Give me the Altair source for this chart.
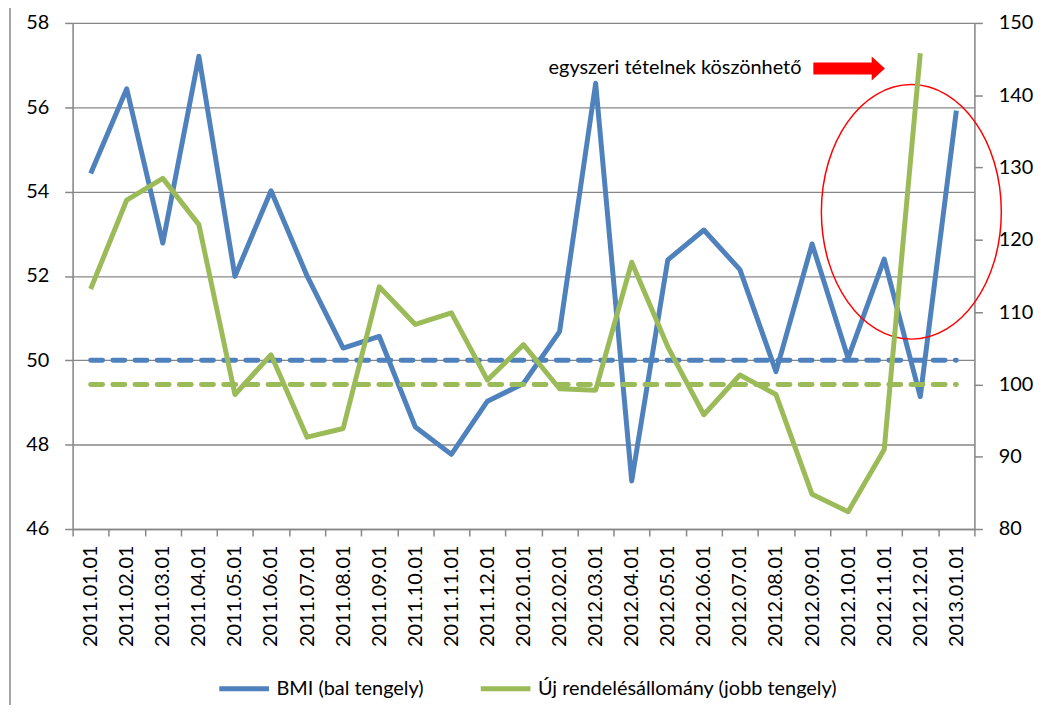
import altair as alt
import pandas as pd

dates = ["2011.01.01", "2011.02.01", "2011.03.01", "2011.04.01", "2011.05.01", "2011.06.01",
         "2011.07.01", "2011.08.01", "2011.09.01", "2011.10.01", "2011.11.01", "2011.12.01",
         "2012.01.01", "2012.02.01", "2012.03.01", "2012.04.01", "2012.05.01", "2012.06.01",
         "2012.07.01", "2012.08.01", "2012.09.01", "2012.10.01", "2012.11.01", "2012.12.01",
         "2013.01.01"]
bmi = [54.43, 56.44, 52.78, 57.21, 51.99, 54.02, 52.0, 50.29, 50.57, 48.42, 47.77, 49.03,
       49.45, 50.68, 56.57, 47.14, 52.38, 53.09, 52.15, 49.73, 52.76, 50.05, 52.4, 49.14, 55.92]
orders = [113.2, 125.5, 128.5, 122.1, 98.6, 104.1, 92.7, 93.9, 113.5, 108.3, 109.9, 100.6,
          105.5, 99.4, 99.2, 116.9, 105.2, 95.8, 101.3, 98.6, 84.8, 82.4, 91.0, 145.8, None]
bmi_ref = 50
orders_ref = 100
series_names = ["BMI (bal tengely)", "Új rendelésállomány (jobb tengely)"]
left_ticks = [46, 48, 50, 52, 54, 56, 58]
right_ticks = [80, 90, 100, 110, 120, 130, 140, 150]
annotation_text = "egyszeri tételnek köszönhető"

BLUE = "#4F81BD"
GREEN = "#9BBB59"
GRAY = "#878787"
FONT = "Lato"

df_bmi = pd.DataFrame({"date": dates, "value": bmi, "series": series_names[0],
                       "ref": [bmi_ref] * len(dates)})
df_ord = pd.DataFrame({"date": dates, "value": orders, "series": series_names[1],
                       "ref": [orders_ref] * len(dates)})

xscale = alt.Scale(type="band", domain=dates, paddingInner=0, paddingOuter=0)
xaxis_def = alt.Axis(title=None, labelAngle=-90, labelAlign="right", labelBaseline="middle",
                     labelFont=FONT, labelFontSize=20, labelColor="black",
                     labelPadding=9, tickBand="extent", tickSize=7, tickColor=GRAY,
                     tickWidth=1.5, domainColor=GRAY, domainWidth=1.5, grid=False)


def xenc():
    return alt.X("date:N", sort=dates, scale=xscale, bandPosition=0.5, axis=xaxis_def)


color = alt.Color("series:N", scale=alt.Scale(domain=series_names, range=[BLUE, GREEN]),
                  legend=alt.Legend(title=None, orient="none", direction="horizontal",
                                    legendX=145, legendY=642, symbolType="stroke",
                                    symbolStrokeWidth=5, symbolSize=2500,
                                    labelFont=FONT, labelFontSize=20, labelColor="black",
                                    labelLimit=500, columnPadding=46, labelOffset=5))

yleft_scale = alt.Scale(domain=[46, 58], nice=False, zero=False)
yleft_axis = alt.Axis(title=None, orient="left", values=left_ticks, grid=True, gridColor=GRAY,
                      gridWidth=1.3, domainColor=GRAY, domainWidth=1.5, tickColor=GRAY,
                      tickWidth=1.5, tickSize=8, labelPadding=16, labelFont=FONT,
                      labelFontSize=20, labelColor="black")
yright_scale = alt.Scale(domain=[80, 150], nice=False, zero=False)
yright_axis = alt.Axis(title=None, orient="right", values=right_ticks, grid=False,
                       domainColor=GRAY, domainWidth=1.5, tickColor=GRAY, tickWidth=1.5,
                       tickSize=8, labelPadding=16, labelFont=FONT, labelFontSize=20,
                       labelColor="black")

bmi_ref_line = alt.Chart(df_bmi).mark_line(strokeWidth=5, strokeDash=[12, 10.3],
                                            strokeCap="round", color=BLUE).encode(
    x=xenc(), y=alt.Y("ref:Q", scale=yleft_scale, axis=yleft_axis))
bmi_line = alt.Chart(df_bmi).mark_line(strokeWidth=5, strokeJoin="round").encode(
    x=xenc(), y=alt.Y("value:Q", scale=yleft_scale, axis=yleft_axis), color=color)

ann_df = pd.DataFrame({"date": ["2012.10.01"], "y": [56.92], "label": [annotation_text]})
ell_df = pd.DataFrame({"date": ["2012.12.01"], "y": [53.52]})

ann_text = alt.Chart(ann_df).mark_text(align="right", baseline="middle", dx=-47, fontSize=20,
                                       font=FONT, color="black").encode(
    x=xenc(), y=alt.Y("y:Q", scale=yleft_scale, axis=yleft_axis), text="label:N")
arrow_path = "M -1 -0.167 L 0.63 -0.167 L 0.63 -0.333 L 1 0 L 0.63 0.333 L 0.63 0.167 L -1 0.167 Z"
ann_arrow = alt.Chart(ann_df).mark_point(shape=arrow_path, size=5184, filled=True,
                                         color="#FF0000", opacity=1, xOffset=1).encode(
    x=xenc(), y=alt.Y("y:Q", scale=yleft_scale, axis=yleft_axis))
ellipse_path = "M -0.707 0 A 0.707 1 0 1 1 0.707 0 A 0.707 1 0 1 1 -0.707 0 Z"
ann_ellipse = alt.Chart(ell_df).mark_point(shape=ellipse_path, size=65536, filled=False,
                                           stroke="#FF0000", strokeWidth=1.5, opacity=1,
                                           xOffset=-9).encode(
    x=xenc(), y=alt.Y("y:Q", scale=yleft_scale, axis=yleft_axis))

border = alt.Chart(pd.DataFrame({"a": [0]})).mark_rule(color=GRAY, strokeWidth=1.5).encode(
    x=alt.value(-63), y=alt.value(-21), y2=alt.value(700))

left = alt.layer(bmi_ref_line, bmi_line, ann_text, ann_arrow, ann_ellipse, border)

ord_ref_line = alt.Chart(df_ord).mark_line(strokeWidth=5, strokeDash=[12, 10.3],
                                            strokeCap="round", color=GREEN).encode(
    x=xenc(), y=alt.Y("ref:Q", scale=yright_scale, axis=yright_axis))
ord_line = alt.Chart(df_ord).mark_line(strokeWidth=5, strokeJoin="round").encode(
    x=xenc(), y=alt.Y("value:Q", scale=yright_scale, axis=yright_axis), color=color)

right = alt.layer(ord_ref_line, ord_line)

chart = alt.layer(left, right).resolve_scale(y="independent").properties(
    width=907, height=509, autosize="none",
    padding={"left": 65, "top": 13, "right": 68, "bottom": 175},
).configure_view(stroke=None).configure(background="white")

chart.save("out.html", embed_options={"renderer": "svg", "actions": False})
